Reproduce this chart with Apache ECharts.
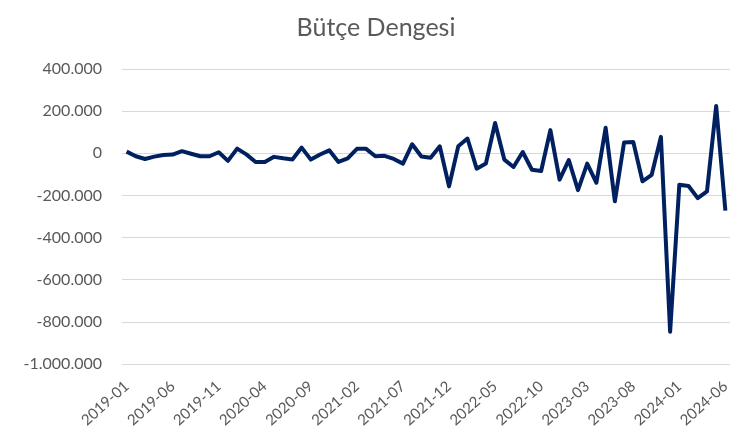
<!DOCTYPE html>
<html style="height: 100%">
<head>
<meta charset="utf-8">
<script src="https://cdn.jsdelivr.net/npm/echarts@6/dist/echarts.min.js"></script>
</head>
<body style="height: 100%; margin: 0; background: #fff">
<div id="container" style="width: 752px; height: 439px"></div>
<script>
// months 2019-01 .. 2024-06
var months = [];
for (var y = 2019; y <= 2024; y++) {
    for (var m = 1; m <= 12; m++) {
        if (y === 2024 && m > 6) break;
        months.push(y + '-' + (m < 10 ? '0' + m : m));
    }
}

// budget balance
var balance = [
    8000, -14000, -27000, -16000, -8000, -6000, 10000, -2000, -14000, -14000,
    5000, -36000, 22000, -5000, -41000, -41000, -17000, -24000, -29000, 27000,
    -30000, -6000, 14000, -41000, -24000, 21000, 21000, -14000, -12000, -27000,
    -49000, 43000, -15000, -21000, 33000, -157000, 33000, 70000, -73000, -49000,
    144000, -30000, -65000, 6000, -78000, -84000, 110000, -125000, -32000, -175000,
    -49000, -140000, 121000, -228000, 51000, 54000, -133000, -102000, 78000, -847000,
    -149000, -155000, -213000, -181000, 224000, -272000
];

function fmt(v) {
    var s = Math.abs(v).toString().replace(/\B(?=(\d{3})+(?!\d))/g, '.');
    return (v < 0 ? '-' : '') + s;
}

var myChart = echarts.init(document.getElementById('container'));
var option = {
    animation: false,
    title: {
        text: 'Bütçe Dengesi',
        left: 'center',
        top: 10,
        textStyle: { color: '#595959', fontSize: 25, fontWeight: 'normal', fontFamily: 'Lato' }
    },
    grid: { left: 122, right: 22, top: 69, bottom: 75 },
    xAxis: {
        type: 'category',
        data: months,
        boundaryGap: true,
        axisLine: { show: false },
        axisTick: { show: false },
        axisLabel: {
            interval: 4,
            rotate: 42,
            color: '#595959',
            fontSize: 15,
            fontFamily: 'Lato',
            margin: 20
        }
    },
    yAxis: {
        type: 'value',
        min: -1000000,
        max: 400000,
        interval: 200000,
        axisLine: { show: false },
        axisTick: { show: false },
        splitLine: { lineStyle: { color: '#d9d9d9', width: 1 } },
        axisLabel: {
            formatter: fmt,
            color: '#595959',
            fontSize: 16,
            fontFamily: 'Lato',
            margin: 20
        }
    },
    series: [{
        name: 'Bütçe Dengesi',
        type: 'line',
        data: balance,
        showSymbol: false,
        lineStyle: { color: '#002060', width: 4, join: 'round' }
    }]
};
myChart.setOption(option);
</script>
</body>
</html>
